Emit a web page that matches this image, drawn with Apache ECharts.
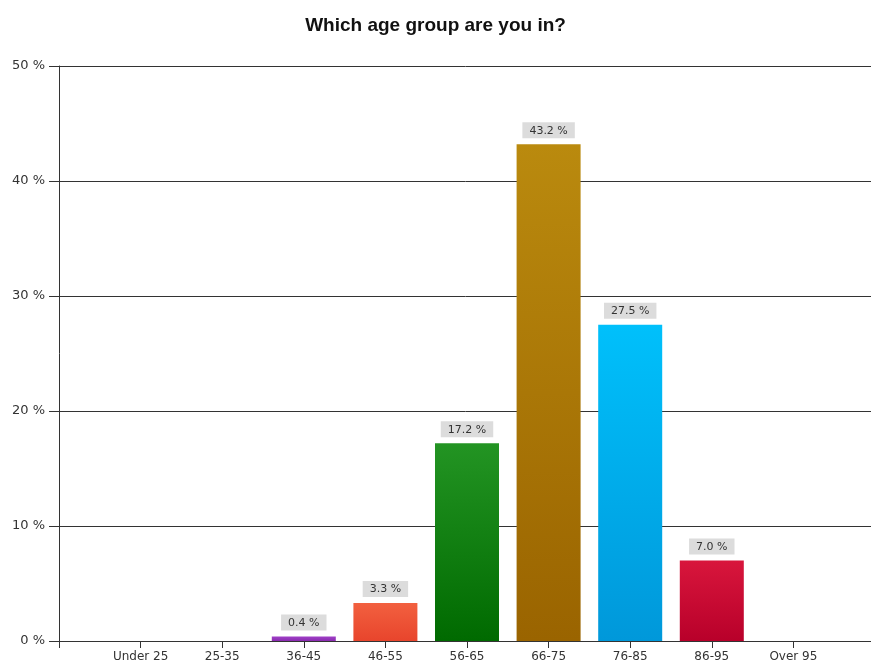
<!DOCTYPE html>
<html><head><meta charset="utf-8">
<script src="https://cdn.jsdelivr.net/npm/echarts@6/dist/echarts.min.js"></script>
<style>html,body{margin:0;padding:0;background:#fff;overflow:hidden}#c{width:871px;height:666px}</style>
</head><body><div id="c"></div>
<script>
const categories = ['Under 25','25-35','36-45','46-55','56-65','66-75','76-85','86-95','Over 95'];
const values = [0, 0, 0.4, 3.3, 17.2, 43.2, 27.5, 7.0, 0];
const topColors = ['#999','#999','#a040c8','#f2603f','#239423','#ba8a0e','#00c0fb','#d8163c','#999'];
const bottomColors = ['#999','#999','#8a2cb0','#e8452c','#006a00','#9a6400','#0098da','#b8002a','#999'];
const yTicks = [0,10,20,30,40,50];

const axisCats = [''].concat(categories).concat(['']);
const seriesData = values.map((v,i)=>({
  value: v,
  itemStyle:{color:new echarts.graphic.LinearGradient(0,0,0,1,[{offset:0,color:topColors[i]},{offset:1,color:bottomColors[i]}])},
  label:{show: v>0}
}));
const chart = echarts.init(document.getElementById('c'));
chart.setOption({
  animation:false,
  title:{text:'Which age group are you in?',left:'center',top:11,textStyle:{fontFamily:'Liberation Sans, Arial, sans-serif',fontSize:19,fontWeight:'bold',color:'#111'}},
  grid:{left:59,width:816,top:66,bottom:25,containLabel:false,outerBoundsMode:'none'},
  xAxis:{type:'category',data:axisCats,boundaryGap:false,
    axisLine:{lineStyle:{color:'#333'}},
    axisTick:{show:true,length:7,lineStyle:{color:'#333'},interval:0},
    axisLabel:{interval:0,color:'#333',fontSize:12,fontFamily:'DejaVu Sans, sans-serif',margin:10,letterSpacing:-0.5},
    splitLine:{show:false}},
  yAxis:{type:'value',min:yTicks[0],max:yTicks[yTicks.length-1],interval:10,
    axisLine:{show:true,lineStyle:{color:'#333'}},
    axisTick:{show:true,length:10,lineStyle:{color:'#333'}},
    axisLabel:{color:'#333',fontSize:13,fontFamily:'DejaVu Sans, sans-serif',margin:14,formatter:v=>v+' %'},
    splitLine:{show:true,lineStyle:{color:'#333',width:1}}},
  series:[{type:'bar',barWidth:64,
    data:[null].concat(seriesData).concat([null]),
    label:{show:true,position:'top',distance:6,formatter:p=>p.value.toFixed(1)+' %',
      backgroundColor:'#dcdcdc',padding:[3,7,2,7],color:'#333',fontSize:11,fontFamily:'DejaVu Sans, sans-serif'}
  }]
});
</script></body></html>
